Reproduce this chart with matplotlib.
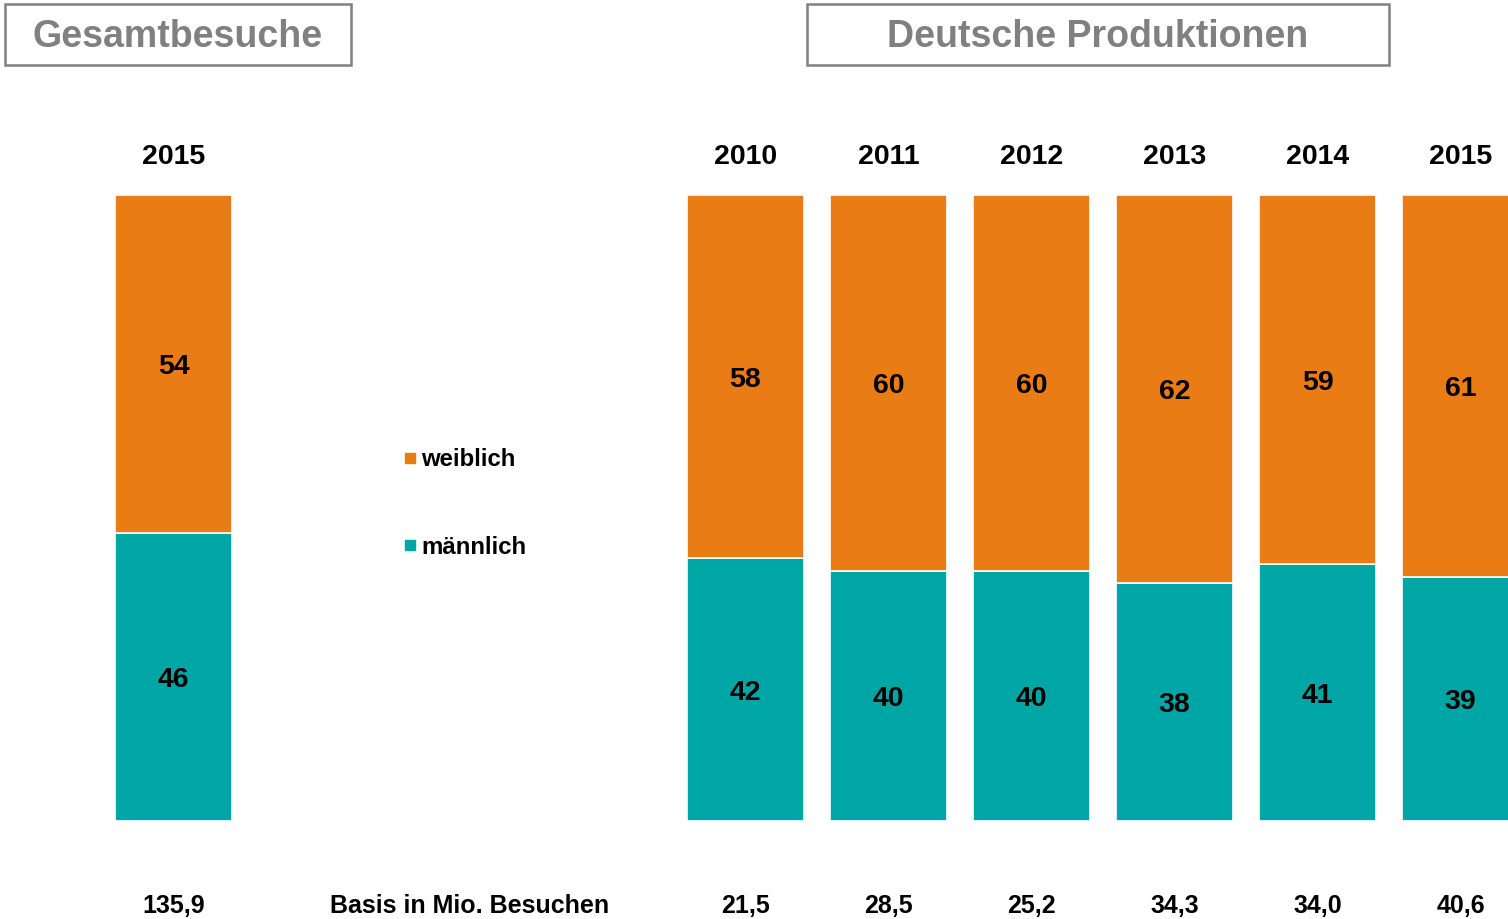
import matplotlib.pyplot as plt
from matplotlib.patches import Rectangle

plt.rcParams['font.family'] = ['Liberation Sans', 'DejaVu Sans']

# data
years = ['2015', '2010', '2011', '2012', '2013', '2014', '2015']
maennlich = [46, 42, 40, 40, 38, 41, 39]
weiblich = [54, 58, 60, 60, 62, 59, 61]
basis = ['135,9', '21,5', '28,5', '25,2', '34,3', '34,0', '40,6']
positions = [0, 4, 5, 6, 7, 8, 9]

orange = '#EA7C15'
teal = '#00A6A6'

fig = plt.figure(figsize=(15.08, 9.19), dpi=100)
ax = fig.add_axes([0, 98 / 919, 1, 626 / 919])
ax.set_xlim(-173.5 / 143, (1508 - 173.5) / 143)
ax.set_ylim(0, 100)
ax.axis('off')

w = 117 / 143
ax.bar(positions, maennlich, width=w, color=teal, edgecolor='white', linewidth=1.2)
ax.bar(positions, weiblich, width=w, bottom=maennlich, color=orange,
       edgecolor='white', linewidth=1.2)

for p, m, f, yr, b in zip(positions, maennlich, weiblich, years, basis):
    ax.text(p, m / 2 - 0.5, str(m), ha='center', va='center', fontsize=20.5, fontweight='bold')
    ax.text(p, m + f / 2 - 0.5, str(f), ha='center', va='center', fontsize=20.5,
            fontweight='bold')
    ax.text(p, 106, yr, ha='center', va='center', fontsize=20.5, fontweight='bold',
            clip_on=False)
    ax.text(p, -13.6, b, ha='center', va='center', fontsize=18, fontweight='bold',
            clip_on=False)

ax.text(2.07, -13.6, 'Basis in Mio. Besuchen', ha='center', va='center',
        fontsize=18, fontweight='bold', clip_on=False)

# legend
for ypix, col, lab in [(459, orange, 'weiblich'), (546, teal, 'männlich')]:
    fig.patches.append(Rectangle((405 / 1508, 1 - (ypix + 4) / 919), 10 / 1508, 10 / 919,
                                 transform=fig.transFigure, color=col))
    fig.text(421 / 1508, 1 - (ypix + 1) / 919, lab, ha='left', va='center',
             fontsize=17.3, fontweight='bold')

# header boxes
for x0, x1, title in [(5, 351, 'Gesamtbesuche'), (807, 1389, 'Deutsche Produktionen')]:
    fig.patches.append(Rectangle((x0 / 1508, 1 - 65 / 919), (x1 - x0) / 1508, 61 / 919,
                                 transform=fig.transFigure, facecolor='white',
                                 edgecolor='#808080', linewidth=1.8))
    fig.text((x0 + x1) / 2 / 1508, 1 - 37 / 919, title, ha='center', va='center',
             fontsize=27, fontweight='bold', color='#808080')

fig.savefig('out.png', dpi=100)
